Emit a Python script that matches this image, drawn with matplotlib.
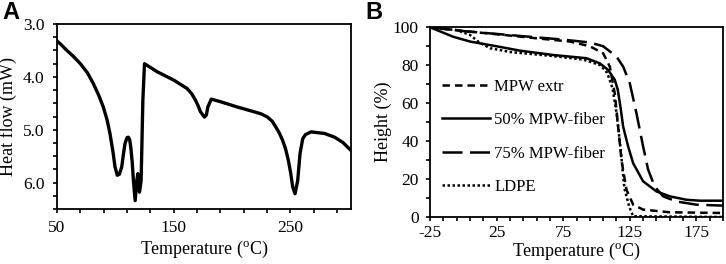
import matplotlib
matplotlib.use("Agg")
import matplotlib.pyplot as plt
from matplotlib.ticker import MultipleLocator

plt.rcParams['font.family'] = ['Liberation Serif', 'DejaVu Serif']
plt.rcParams['mathtext.fontset'] = 'custom'
plt.rcParams['mathtext.rm'] = 'Liberation Serif'
plt.rcParams['axes.unicode_minus'] = False

# Panel A: DSC heat flow curve
dsc_temp = [50, 54, 58, 64, 70, 76, 81, 86, 89.7, 93, 95.4, 98, 99.7, 101.7, 103.5,
            105.5, 107, 108.3, 110, 111.2, 112.3, 113.2, 114.5, 115.5, 117, 118.4,
            119.3, 120.7, 122.1, 123.6, 125, 135.6, 150, 161.5, 165.5, 168.7, 171, 173,
            176.4, 178, 179.3, 182.2, 190.2, 204.6, 219, 225, 230.5, 234.5, 237.6,
            240.5, 243.4, 246, 248.3, 250.3, 252, 254, 256.3, 258.3, 260.6, 263,
            267.8, 279.3, 287.9, 295, 302]
dsc_flow = [3.32, 3.40, 3.49, 3.61, 3.75, 3.92, 4.12, 4.36, 4.57, 4.82, 5.07, 5.42,
            5.70, 5.86, 5.84, 5.70, 5.45, 5.26, 5.15, 5.14, 5.19, 5.32, 5.62,
            5.96, 6.34, 5.96, 5.83, 6.18, 5.96, 4.44, 3.75, 3.90, 4.06, 4.22,
            4.32, 4.44, 4.55, 4.66, 4.76, 4.72, 4.57, 4.42, 4.47, 4.57, 4.66, 4.70,
            4.76, 4.84, 4.95, 5.06, 5.20, 5.37, 5.58, 5.82, 6.08, 6.21, 5.96,
            5.45, 5.17, 5.09, 5.04, 5.07, 5.14, 5.24, 5.39]

# Panel B: height vs temperature
mpw_t = [-25, 5, 30, 55, 80, 95, 105, 110, 113.75, 116.25, 118.75, 122.5, 127.5, 135, 155, 195]
mpw_h = [100, 97.7, 96, 94.2, 92.5, 90, 86.3, 79.3, 65, 47.7, 30, 14.4, 6.5, 3.9, 2.5, 2.1]

f50_t = [-25, -7.5, 5, 25, 42.5, 67.5, 92.5, 102.5, 108.75, 113.75, 116, 118, 120,
         123.75, 127.5, 135, 145, 155, 167.5, 177.5, 195]
f50_h = [100, 95, 92.5, 90, 87.7, 85.4, 83.7, 81, 77.5, 72.3, 67, 58, 47.7,
         37.2, 28.4, 18.8, 13.5, 10.9, 9.1, 8.6, 8.6]

f75_t = [-25, 0, 25, 50, 75, 95, 105, 115, 120, 125, 130, 135, 138.75, 143.75,
         150, 160, 175, 195]
f75_h = [100, 98, 96.5, 95, 93.5, 92, 90, 84.6, 79.3, 70.5, 54.7, 37.2, 25, 16,
         10.9, 8.2, 6.5, 6]

ldpe_t = [-25, -5, 5, 12, 20, 35, 65, 90, 103, 108, 112, 115, 117.5, 121, 124.5, 127.5, 195]
ldpe_h = [100, 98.5, 96, 92, 89, 87, 85, 83, 80, 76, 68, 55, 40, 15, 5.6, 0.4, 0]

fig = plt.figure(figsize=(7.26, 2.64), dpi=100)

# ---- Panel A ----
axA = fig.add_axes([0.0785, 0.208, 0.405, 0.701])
axA.plot(dsc_temp, dsc_flow, color='black', lw=2.4, solid_joinstyle='round')
axA.set_xlim(50, 302)
axA.set_ylim(6.5, 3.0)
axA.xaxis.set_major_locator(MultipleLocator(100, offset=50))
axA.xaxis.set_minor_locator(MultipleLocator(20, offset=10))
axA.yaxis.set_major_locator(MultipleLocator(1.0))
axA.yaxis.set_minor_locator(MultipleLocator(0.25))
axA.yaxis.set_major_formatter(plt.FormatStrFormatter('%.1f'))
axA.tick_params(which='both', direction='out', length=3, width=1.2, labelsize=12.5)
axA.tick_params(axis='y', pad=6)
axA.tick_params(axis='x', pad=5)
axA.set_xlabel('Temperature ($^{\\mathrm{o}}$C)', fontsize=13, labelpad=2)
axA.set_ylabel('Heat flow (mW)', fontsize=13)
axA.yaxis.set_label_coords(-0.135, 0.5)
for s in axA.spines.values():
    s.set_linewidth(1.3)

# ---- Panel B ----
axB = fig.add_axes([0.5923, 0.178, 0.4036, 0.7186])
axB.plot(mpw_t, mpw_h, color='black', lw=1.8, ls=(0, (3, 2)), label='MPW extr')
axB.plot(f50_t, f50_h, color='black', lw=1.8, ls='-', label='50% MPW-fiber')
axB.plot(f75_t, f75_h, color='black', lw=1.8, ls=(0, (8, 3)), label='75% MPW-fiber')
axB.plot(ldpe_t, ldpe_h, color='black', lw=1.8, ls=(0, (1, 1)), label='LDPE')
axB.set_xlim(-25, 195)
axB.set_ylim(0, 100)
axB.xaxis.set_major_locator(MultipleLocator(50, offset=25))
axB.xaxis.set_minor_locator(MultipleLocator(10, offset=5))
axB.yaxis.set_major_locator(MultipleLocator(20))
axB.yaxis.set_minor_locator(MultipleLocator(10))
axB.tick_params(which='both', direction='out', length=3, width=1.2, labelsize=12.5)
axB.tick_params(axis='y', pad=5)
axB.tick_params(axis='x', pad=3)
axB.set_xlabel('Temperature ($^{\\mathrm{o}}$C)', fontsize=13, labelpad=0)
axB.set_ylabel('Height (%)', fontsize=13, labelpad=1)
for s in axB.spines.values():
    s.set_linewidth(1.3)
axB.legend(loc='upper left', bbox_to_anchor=(0.0, 0.79), frameon=False,
           fontsize=12, handlelength=2.9, labelspacing=1.05, handletextpad=0.25,
           borderaxespad=0.3)

fig.text(0.003, 0.995, 'A', fontsize=17, fontweight='bold', family='Liberation Sans', va='top')
fig.text(0.503, 0.995, 'B', fontsize=17, fontweight='bold', family='Liberation Sans', va='top')

fig.savefig('out.png', dpi=100)
